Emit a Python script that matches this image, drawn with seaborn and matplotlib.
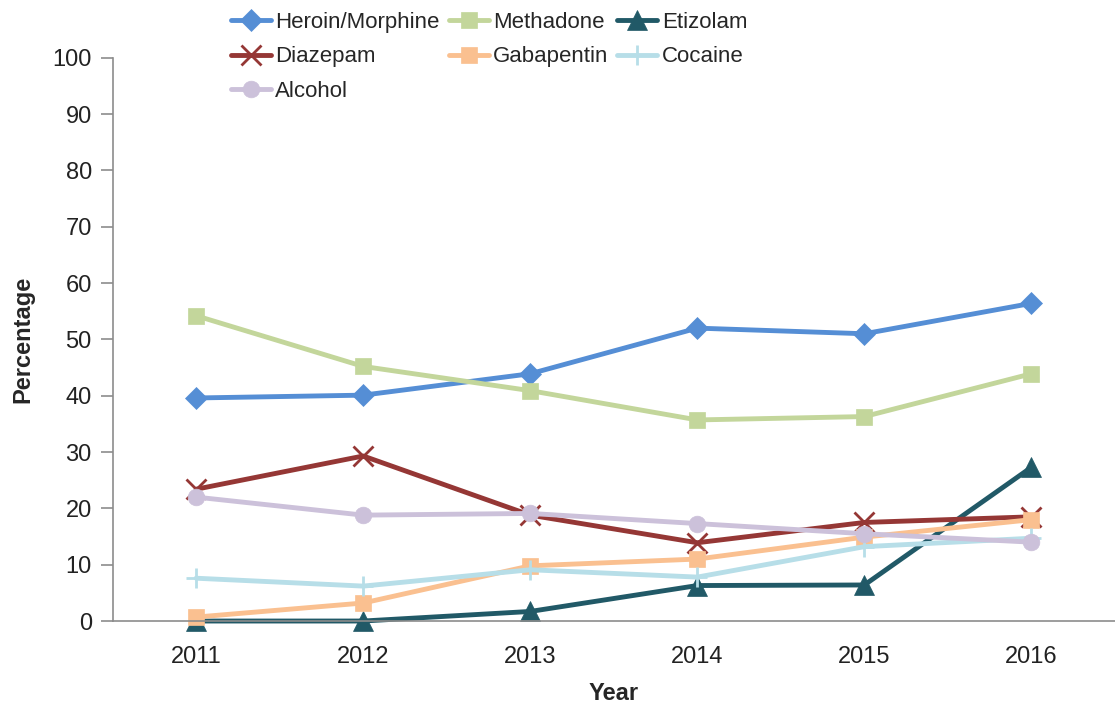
import pandas as pd
import matplotlib
matplotlib.use("Agg")
import matplotlib.pyplot as plt
import seaborn as sns

# ---------------- DATA ----------------
years = ["2011", "2012", "2013", "2014", "2015", "2016"]

heroin = [39.6, 40.1, 43.9, 52.0, 51.0, 56.4]
methadone = [54.2, 45.2, 40.9, 35.7, 36.3, 43.9]
etizolam = [0.0, 0.0, 1.7, 6.3, 6.4, 27.3]
diazepam = [23.4, 29.3, 18.8, 13.9, 17.5, 18.5]
gabapentin = [0.7, 3.2, 9.8, 11.0, 14.9, 18.0]
cocaine = [7.6, 6.2, 9.1, 7.8, 13.2, 14.7]
alcohol = [22.0, 18.8, 19.1, 17.3, 15.5, 14.0]

series = {
    "Heroin/Morphine": (heroin, "#558ED5", "D"),
    "Methadone": (methadone, "#C3D69B", "s"),
    "Etizolam": (etizolam, "#215967", "^"),
    "Diazepam": (diazepam, "#953735", "x"),
    "Gabapentin": (gabapentin, "#FAC090", "s"),
    "Cocaine": (cocaine, "#B7DEE8", "+"),
    "Alcohol": (alcohol, "#CCC1DA", "o"),
}

# ---------------- PLOT ----------------
sns.set_style("white")
plt.rcParams['font.family'] = ['Liberation Sans', 'DejaVu Sans']

fig = plt.figure(figsize=(11.15, 7.13), dpi=100)
ax = fig.add_axes([0.101, 0.129, 0.899, 0.790])

msize = {"D": 11, "s": 11, "^": 14, "x": 14, "+": 15, "o": 12}
for name, (vals, col, mk) in series.items():
    sns.lineplot(x=years, y=vals, color=col, marker=mk, label=name, ax=ax,
                 lw=3.5, markersize=msize[mk], markeredgecolor=col,
                 markerfacecolor=col, markeredgewidth=2 if mk in "x+" else 0.5,
                 clip_on=False)

ax.set_xlim(-0.5, 5.5)
ax.set_ylim(0, 100)
ax.set_yticks(range(0, 101, 10))
ax.set_xticks(range(6))
ax.set_xticklabels(years)
ax.set_xticks([i - 0.5 for i in range(7)], minor=True)
ax.tick_params(axis="x", which="major", length=0, labelsize=17, pad=18, colors="#222222")
ax.tick_params(axis="x", which="minor", length=9, width=1.2, color="#8c8c8c", direction="out")
ax.tick_params(axis="y", length=9, width=1.2, color="#8c8c8c", labelsize=17,
               labelcolor="#222222", direction="out", left=True, pad=6)

for s in ["top", "right"]:
    ax.spines[s].set_visible(False)
for s in ["left", "bottom"]:
    ax.spines[s].set_color("#8c8c8c")
    ax.spines[s].set_linewidth(1.2)

ax.set_xlabel("Year", fontsize=17, fontweight="bold", labelpad=10)
ax.set_ylabel("Percentage", fontsize=17, fontweight="bold", labelpad=13)

# legend: three columns, filled row by row like the original
handles, labels = ax.get_legend_handles_labels()
order = [0, 3, 6, 1, 4, 2, 5]
ax.legend([handles[i] for i in order], [labels[i] for i in order],
          ncol=3, frameon=False, fontsize=16, loc="upper left",
          bbox_to_anchor=(0.207, 0.983), bbox_transform=fig.transFigure,
          handlelength=1.8, handletextpad=0.2, borderpad=0,
          columnspacing=0.4, labelspacing=0.6, borderaxespad=0)

plt.savefig("out.png", dpi=100)
